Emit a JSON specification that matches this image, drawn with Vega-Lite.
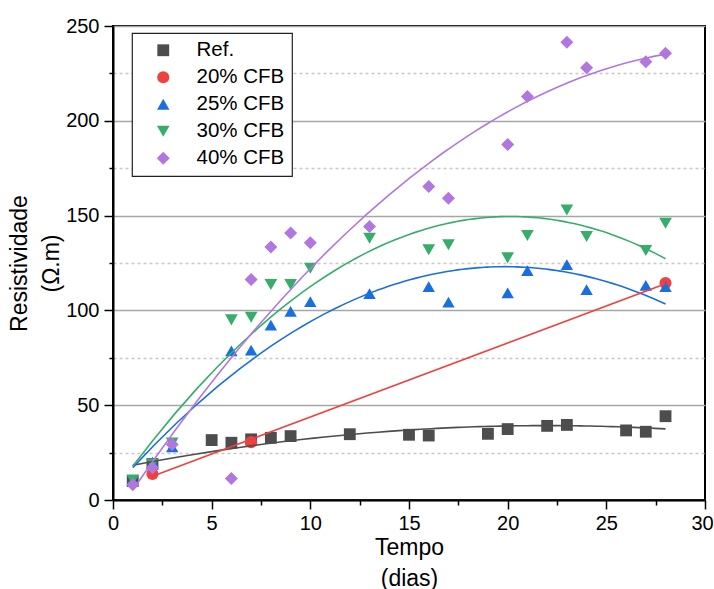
{
  "$schema": "https://vega.github.io/schema/vega-lite/v6.json",
  "width": 592,
  "height": 474,
  "autosize": {"type": "none"},
  "padding": {"left": 113, "top": 26, "right": 9, "bottom": 89},
  "background": "white",
  "config": {
    "font": "Liberation Sans",
    "view": {"stroke": "black", "strokeWidth": 2},
    "axis": {
      "domainColor": "black",
      "domainWidth": 2,
      "tickColor": "black",
      "tickWidth": 1.5,
      "labelFont": "Liberation Sans",
      "labelFontSize": 20,
      "labelColor": "black",
      "titleFont": "Liberation Sans",
      "titleFontSize": 23,
      "titleFontWeight": "normal",
      "titleColor": "black"
    },
    "legend": {
      "orient": "none",
      "legendX": 19,
      "legendY": 7,
      "strokeColor": "#222222",
      "strokeWidth": 1.2,
      "fillColor": "white",
      "padding": 7,
      "labelFont": "Liberation Sans",
      "labelFontSize": 20.5,
      "labelColor": "black",
      "symbolSize": 170,
      "symbolOffset": 14,
      "labelOffset": 23,
      "rowPadding": 6,
      "symbolStrokeWidth": 0,
      "symbolOpacity": 1
    }
  },
  "data": {
    "values": [
      {"series": "Ref.", "x": 1, "y": 10},
      {"series": "Ref.", "x": 2, "y": 19},
      {"series": "Ref.", "x": 5, "y": 31.6},
      {"series": "Ref.", "x": 6, "y": 30.2},
      {"series": "Ref.", "x": 7, "y": 32},
      {"series": "Ref.", "x": 8, "y": 32.8},
      {"series": "Ref.", "x": 9, "y": 33.7},
      {"series": "Ref.", "x": 12, "y": 34.7},
      {"series": "Ref.", "x": 15, "y": 34.4},
      {"series": "Ref.", "x": 16, "y": 34},
      {"series": "Ref.", "x": 19, "y": 34.9},
      {"series": "Ref.", "x": 20, "y": 37.4},
      {"series": "Ref.", "x": 22, "y": 39.1},
      {"series": "Ref.", "x": 23, "y": 39.6},
      {"series": "Ref.", "x": 26, "y": 36.7},
      {"series": "Ref.", "x": 27, "y": 36},
      {"series": "Ref.", "x": 28, "y": 44.2},
      {"series": "20% CFB", "x": 2, "y": 13.7},
      {"series": "20% CFB", "x": 7, "y": 30.5},
      {"series": "20% CFB", "x": 28, "y": 114.4},
      {"series": "25% CFB", "x": 1, "y": 10.5},
      {"series": "25% CFB", "x": 2, "y": 20},
      {"series": "25% CFB", "x": 3, "y": 28},
      {"series": "25% CFB", "x": 6, "y": 78.6},
      {"series": "25% CFB", "x": 7, "y": 79},
      {"series": "25% CFB", "x": 8, "y": 92.2},
      {"series": "25% CFB", "x": 9, "y": 99.5},
      {"series": "25% CFB", "x": 10, "y": 104.6},
      {"series": "25% CFB", "x": 13, "y": 108.9},
      {"series": "25% CFB", "x": 16, "y": 112.6},
      {"series": "25% CFB", "x": 17, "y": 104.4},
      {"series": "25% CFB", "x": 20, "y": 109.3},
      {"series": "25% CFB", "x": 21, "y": 121},
      {"series": "25% CFB", "x": 23, "y": 124.2},
      {"series": "25% CFB", "x": 24, "y": 110.9},
      {"series": "25% CFB", "x": 27, "y": 113.2},
      {"series": "25% CFB", "x": 28, "y": 112.6},
      {"series": "30% CFB", "x": 1, "y": 10.5},
      {"series": "30% CFB", "x": 2, "y": 19},
      {"series": "30% CFB", "x": 3, "y": 30},
      {"series": "30% CFB", "x": 6, "y": 95},
      {"series": "30% CFB", "x": 7, "y": 96.4},
      {"series": "30% CFB", "x": 8, "y": 113.6},
      {"series": "30% CFB", "x": 9, "y": 113.6},
      {"series": "30% CFB", "x": 10, "y": 122.2},
      {"series": "30% CFB", "x": 13, "y": 138},
      {"series": "30% CFB", "x": 16, "y": 132},
      {"series": "30% CFB", "x": 17, "y": 134.6},
      {"series": "30% CFB", "x": 20, "y": 127.7},
      {"series": "30% CFB", "x": 21, "y": 139.5},
      {"series": "30% CFB", "x": 23, "y": 153},
      {"series": "30% CFB", "x": 24, "y": 139},
      {"series": "30% CFB", "x": 27, "y": 131.6},
      {"series": "30% CFB", "x": 28, "y": 146},
      {"series": "40% CFB", "x": 1, "y": 8},
      {"series": "40% CFB", "x": 2, "y": 17},
      {"series": "40% CFB", "x": 3, "y": 29.3},
      {"series": "40% CFB", "x": 6, "y": 11.4},
      {"series": "40% CFB", "x": 7, "y": 116.3},
      {"series": "40% CFB", "x": 8, "y": 133.5},
      {"series": "40% CFB", "x": 9, "y": 140.8},
      {"series": "40% CFB", "x": 10, "y": 135.7},
      {"series": "40% CFB", "x": 13, "y": 144.2},
      {"series": "40% CFB", "x": 16, "y": 165.4},
      {"series": "40% CFB", "x": 17, "y": 159.1},
      {"series": "40% CFB", "x": 20, "y": 187.5},
      {"series": "40% CFB", "x": 21, "y": 212.8},
      {"series": "40% CFB", "x": 23, "y": 241.4},
      {"series": "40% CFB", "x": 24, "y": 228},
      {"series": "40% CFB", "x": 27, "y": 231.2},
      {"series": "40% CFB", "x": 28, "y": 235.6}
    ]
  },
  "encoding": {
    "x": {
      "field": "x",
      "type": "quantitative",
      "scale": {"domain": [0, 30], "nice": false, "zero": false},
      "axis": {
        "title": ["Tempo", "(dias)"],
        "titleLineHeight": 31,
        "titlePadding": 3,
        "values": [0, 2.5, 5, 7.5, 10, 12.5, 15, 17.5, 20, 22.5, 25, 27.5, 30],
        "labelExpr": "datum.value % 5 === 0 ? datum.label : ''",
        "tickSize": {"condition": {"test": "datum.value % 5 === 0", "value": 9}, "value": 5},
        "labelOffset": {"condition": {"test": "datum.value === 30", "value": -3}, "value": 0},
        "labelPadding": 4,
        "grid": false,
        "labelFlush": false,
        "labelOverlap": false
      }
    },
    "y": {
      "field": "y",
      "type": "quantitative",
      "scale": {"domain": [0, 250], "nice": false},
      "axis": {
        "title": ["Resistividade", "(Ω.m)"],
        "titleLineHeight": 32,
        "titlePadding": 2,
        "values": [0, 25, 50, 75, 100, 125, 150, 175, 200, 225, 250],
        "labelExpr": "datum.value % 50 === 0 ? datum.label : ''",
        "tickSize": {"condition": {"test": "datum.value % 50 === 0", "value": 9}, "value": 4},
        "labelPadding": 5,
        "grid": true,
        "gridColor": {"condition": {"test": "datum.value % 50 === 0", "value": "#a6a6a6"}, "value": "#c8c8c8"},
        "gridDash": {"condition": {"test": "datum.value % 50 === 0", "value": []}, "value": [3, 3]},
        "gridWidth": 1.3,
        "labelFlush": false,
        "labelOverlap": false
      }
    }
  },
  "layer": [
    {
      "mark": {"type": "point", "filled": true, "opacity": 1},
      "encoding": {
        "color": {
          "field": "series",
          "type": "nominal",
          "sort": null,
          "scale": {
            "domain": ["Ref.", "20% CFB", "25% CFB", "30% CFB", "40% CFB"],
            "range": ["#4d4d4d", "#f14040", "#1a6fdf", "#37ad6b", "#b177de"]
          },
          "legend": {"title": null}
        },
        "shape": {
          "field": "series",
          "type": "nominal",
          "sort": null,
          "scale": {
            "domain": ["Ref.", "20% CFB", "25% CFB", "30% CFB", "40% CFB"],
            "range": ["square", "circle", "triangle-up", "triangle-down", "diamond"]
          },
          "legend": {"title": null}
        },
        "size": {
          "field": "series",
          "type": "nominal",
          "scale": {
            "domain": ["Ref.", "20% CFB", "25% CFB", "30% CFB", "40% CFB"],
            "range": [140, 169, 196, 196, 200]
          },
          "legend": null
        }
      }
    },
    {
      "transform": [
        {"filter": "datum.series !== '20% CFB'"},
        {"regression": "y", "on": "x", "groupby": ["series"], "method": "poly", "order": 2}
      ],
      "mark": {"type": "line", "strokeWidth": 1.6},
      "encoding": {
        "color": {"field": "series", "type": "nominal", "legend": null}
      }
    },
    {
      "transform": [
        {"filter": "datum.series === '20% CFB'"},
        {"regression": "y", "on": "x", "groupby": ["series"], "method": "linear"}
      ],
      "mark": {"type": "line", "strokeWidth": 1.6},
      "encoding": {
        "color": {"field": "series", "type": "nominal", "legend": null}
      }
    }
  ]
}
